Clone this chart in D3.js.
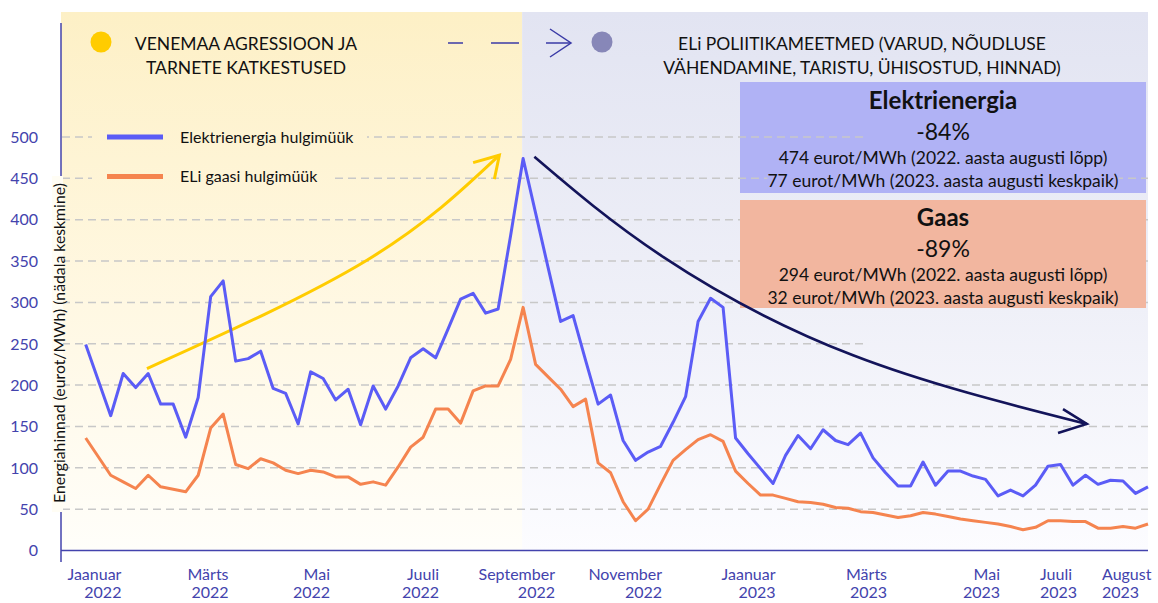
<!DOCTYPE html>
<html>
<head>
<meta charset="utf-8">
<script src="https://cdn.jsdelivr.net/npm/d3@7"></script>
<style>
body { margin: 0; background: #fff; }
svg text { font-family: Lato, "Open Sans", sans-serif; }
</style>
</head>
<body>
<svg id="chart" width="1158" height="603"></svg>
<script>
// weekly averages, week 0 = first week of January 2022 (week 1 has no value)
var weeks = [0, 2, 3, 4, 5, 6, 7, 8, 9, 10, 11, 12, 13, 14, 15, 16, 17, 18, 19, 20,
  21, 22, 23, 24, 25, 26, 27, 28, 29, 30, 31, 32, 33, 34, 35, 36, 37, 38, 39, 40,
  41, 42, 43, 44, 45, 46, 47, 48, 49, 50, 51, 52, 53, 54, 55, 56, 57, 58, 59, 60,
  61, 62, 63, 64, 65, 66, 67, 68, 69, 70, 71, 72, 73, 74, 75, 76, 77, 78, 79, 80,
  81, 82, 83, 84, 85];

var elec = [249, 163, 214, 197, 214, 177, 177, 137, 185, 307, 326, 229, 232, 241, 196, 190, 153, 216, 208, 182,
  195, 152, 199, 171, 199, 233, 244, 233, 268, 304, 311, 287, 292, 381, 474, 408, 342, 277, 284, 230,
  177, 188, 133, 109, 119, 126, 155, 186, 277, 305, 294, 136, 117, 99, 81, 115, 139, 123, 146, 133,
  128, 142, 112, 94, 78, 78, 107, 79, 96, 96, 90, 86, 66, 73, 66, 79, 102, 104, 79, 91,
  80, 85, 84, 69, 77];

var gas = [136, 91, 83, 75, 91, 77, 74, 71, 91, 148, 165, 104, 99, 111, 106, 97, 93, 97, 95, 89,
  89, 80, 83, 79, 101, 125, 137, 171, 171, 154, 193, 199, 199, 231, 294, 225, 210, 195, 174, 183,
  106, 94, 59, 36, 50, 80, 109, 122, 134, 140, 132, 96, 81, 67, 67, 63, 59, 58, 56, 52,
  51, 47, 46, 43, 40, 42, 46, 44, 41, 38, 36, 34, 32, 29, 25, 28, 36, 36, 35, 35,
  27, 27, 29, 27, 32];

var yTicks = [0, 50, 100, 150, 200, 250, 300, 350, 400, 450, 500];

var tickMonths = ["Jaanuar", "Märts", "Mai", "Juuli", "September", "November", "Jaanuar", "Märts", "Mai", "Juuli", "August"];
var tickYears = ["2022", "2022", "2022", "2022", "2022", "2022", "2023", "2023", "2023", "2023", "2023"];
var tickWeeks = [2.86, 11.43, 19.55, 28.27, 37.55, 46.12, 55.2, 64.12, 73.16, 76.36, 81.32];
var tickAnchor = ["end", "end", "end", "end", "end", "end", "end", "end", "end", "start", "start"];

var seriesNames = ["Elektrienergia hulgimüük", "ELi gaasi hulgimüük"];
var seriesColors = ["#5b5cf6", "#f5844f"];

var phaseSplitWeek = 35; // end of August 2022

// annotation arrows, in [week, eurot/MWh]
var riseArrow = [[4.9, 220], [22.5, 351], [33.1, 478]];
var riseHead = [[31.0, 469], [33.1, 478], [32.7, 449]];
var fallArrow = [[35.9, 476], [46.2, 355], [61.4, 236], [80.1, 153]];
var fallHead = [[78.2, 171], [80.1, 153], [77.8, 142]];

var boxes = [
  { title: "Elektrienergia", change: "-84%", from: "474 eurot/MWh (2022. aasta augusti lõpp)", to: "77 eurot/MWh (2023. aasta augusti keskpaik)", fill: "#b0b2f5" },
  { title: "Gaas", change: "-89%", from: "294 eurot/MWh (2022. aasta augusti lõpp)", to: "32 eurot/MWh (2023. aasta augusti keskpaik)", fill: "#f2b69f" }
];

var svg = d3.select("#chart");
var axisColor = "#4343ad";
var plotLeft = 61, plotRight = 1148, plotTop = 12, plotBase = 550.5;

var x = d3.scaleLinear().domain([0, 85]).range([85.7, 1148]);
var y = d3.scaleLinear().domain([0, 500]).range([plotBase, 137]);

// gradients
var defs = svg.append("defs");
function grad(id, stops) {
  var g = defs.append("linearGradient").attr("id", id)
    .attr("gradientUnits", "userSpaceOnUse")
    .attr("x1", 0).attr("x2", 0).attr("y1", plotTop).attr("y2", plotBase);
  stops.forEach(function(s) { g.append("stop").attr("offset", s[0]).attr("stop-color", s[1]); });
}
grad("yel", [[0, "#fdf0c6"], [0.55, "#fff8e3"], [1, "#fffefa"]]);
grad("pur", [[0, "#e2e4f2"], [0.55, "#eff0f8"], [1, "#fcfcff"]]);

var splitX = x(phaseSplitWeek) - 1;
svg.append("rect").attr("x", plotLeft).attr("y", plotTop).attr("width", splitX - plotLeft).attr("height", plotBase - plotTop).attr("fill", "url(#yel)");
svg.append("rect").attr("x", splitX).attr("y", plotTop).attr("width", plotRight - splitX).attr("height", plotBase - plotTop).attr("fill", "url(#pur)");

// electricity box sits under the grid
svg.append("rect").attr("x", 740).attr("y", 82).attr("width", 406).attr("height", 111).attr("fill", boxes[0].fill);

// grid
svg.append("g").selectAll("line").data(yTicks.filter(function(d) { return d > 0; })).enter()
  .append("line")
  .attr("x1", plotLeft + 1)
  .attr("x2", function(d) { return (d === 500 || d === 250) ? 865 : plotRight; })
  .attr("y1", function(d) { return y(d); }).attr("y2", function(d) { return y(d); })
  .attr("stroke", "#c8c8c8").attr("stroke-width", 1.5).attr("stroke-dasharray", "8,5");

// gas box over the grid
svg.append("rect").attr("x", 740).attr("y", 200).attr("width", 406).attr("height", 108).attr("fill", boxes[1].fill);

// box texts
function boxText(b, y0) {
  var g = svg.append("g");
  var cx = 943;
  g.append("text").attr("x", cx).attr("y", y0).attr("text-anchor", "middle")
    .attr("font-size", 24).attr("font-weight", "bold").attr("fill", "#111").text(b.title);
  g.append("text").attr("x", cx).attr("y", y0 + 31).attr("text-anchor", "middle")
    .attr("font-size", 23).attr("fill", "#111").text(b.change);
  [b.from, b.to].forEach(function(t, i) {
    var tx = g.append("text").attr("x", cx).attr("y", y0 + 55 + i * 23).attr("text-anchor", "middle")
      .attr("font-size", 17.5).attr("fill", "#111").text(t);
    var bb = tx.node().getBBox();
    g.insert("rect", function() { return tx.node(); })
      .attr("x", bb.x).attr("y", bb.y).attr("width", bb.width).attr("height", bb.height)
      .attr("fill", b.fill);
  });
}
boxText(boxes[0], 109);
boxText(boxes[1], 226);

// axes
svg.append("line").attr("x1", plotLeft).attr("x2", plotLeft).attr("y1", 23).attr("y2", 562)
  .attr("stroke", axisColor).attr("stroke-width", 1.5);
svg.append("line").attr("x1", plotLeft).attr("x2", plotRight).attr("y1", plotBase).attr("y2", plotBase)
  .attr("stroke", axisColor).attr("stroke-width", 1.5);

svg.append("g").selectAll("text").data(yTicks).enter().append("text")
  .attr("x", 38).attr("y", function(d) { return y(d); }).attr("dy", "0.36em")
  .attr("text-anchor", "end").attr("font-size", 16).attr("fill", axisColor)
  .text(function(d) { return d; });

var xt = svg.append("g").selectAll("g").data(tickMonths).enter().append("g");
xt.append("text")
  .attr("x", function(d, i) { return x(tickWeeks[i]); }).attr("y", 580)
  .attr("text-anchor", function(d, i) { return tickAnchor[i]; })
  .attr("font-size", 16).attr("fill", axisColor).text(function(d) { return d; });
xt.append("text")
  .attr("x", function(d, i) { return x(tickWeeks[i]); }).attr("y", 598)
  .attr("text-anchor", function(d, i) { return tickAnchor[i]; })
  .attr("font-size", 16).attr("fill", axisColor).text(function(d, i) { return tickYears[i]; });

// y title with a backing strip that hides the axis line
svg.append("rect").attr("x", 52).attr("y", 176).attr("width", 11).attr("height", 336).attr("fill", "#fffdf4");
svg.append("text")
  .attr("transform", "translate(65,343) rotate(-90)")
  .attr("text-anchor", "middle").attr("font-size", 15.8).attr("fill", "#111")
  .text("Energiahinnad (eurot/MWh) (nädala keskmine)");

// annotation arrows
var curve = d3.line().x(function(d) { return x(d[0]); }).y(function(d) { return y(d[1]); }).curve(d3.curveNatural);
var poly = d3.line().x(function(d) { return x(d[0]); }).y(function(d) { return y(d[1]); });
svg.append("path").attr("d", curve(riseArrow)).attr("fill", "none").attr("stroke", "#ffcc00").attr("stroke-width", 3);
svg.append("path").attr("d", poly(riseHead)).attr("fill", "none").attr("stroke", "#ffcc00").attr("stroke-width", 3);
svg.append("path").attr("d", curve(fallArrow)).attr("fill", "none").attr("stroke", "#13145a").attr("stroke-width", 2.6);
svg.append("path").attr("d", poly(fallHead)).attr("fill", "none").attr("stroke", "#13145a").attr("stroke-width", 2.6);

// series
var line = d3.line().x(function(d, i) { return x(weeks[i]); }).y(function(d) { return y(d); });
[elec, gas].forEach(function(s, k) {
  svg.append("path").attr("d", line(s)).attr("fill", "none")
    .attr("stroke", seriesColors[k]).attr("stroke-width", 3).attr("stroke-linejoin", "round");
});

// legend
var lg = svg.append("g");
seriesNames.forEach(function(n, i) {
  var ly = 137 + i * 39.5;
  lg.append("rect").attr("x", 92).attr("y", ly - 11).attr("width", i ? 240 : 275).attr("height", 22).attr("fill", "url(#yel)");
  lg.append("line").attr("x1", 107).attr("x2", 163).attr("y1", ly).attr("y2", ly)
    .attr("stroke", seriesColors[i]).attr("stroke-width", 5);
  lg.append("text").attr("x", 180).attr("y", ly).attr("dy", "0.36em")
    .attr("font-size", 16).attr("fill", "#111").text(n);
});

// phase headers
svg.append("circle").attr("cx", 101).attr("cy", 42).attr("r", 10.5).attr("fill", "#ffcc00");
svg.append("circle").attr("cx", 602).attr("cy", 42).attr("r", 10.5).attr("fill", "#8787b8");
var head = svg.append("g").attr("font-size", 17.5).attr("fill", "#111").attr("text-anchor", "middle");
head.append("text").attr("x", 246).attr("y", 50).text("VENEMAA AGRESSIOON JA");
head.append("text").attr("x", 246).attr("y", 74).text("TARNETE KATKESTUSED");
head.append("text").attr("x", 862).attr("y", 50).text("ELi POLIITIKAMEETMED (VARUD, NÕUDLUSE");
head.append("text").attr("x", 862).attr("y", 74).text("VÄHENDAMINE, TARISTU, ÜHISOSTUD, HINNAD)");

var da = svg.append("g").attr("stroke", "#3a3aa6").attr("stroke-width", 1.5).attr("fill", "none");
da.append("line").attr("x1", 448).attr("x2", 463).attr("y1", 43).attr("y2", 43);
da.append("line").attr("x1", 491).attr("x2", 519).attr("y1", 43).attr("y2", 43);
da.append("line").attr("x1", 546).attr("x2", 571).attr("y1", 43).attr("y2", 43);
da.append("path").attr("d", "M550,29 L571,43 L550,57");
</script>
</body>
</html>
